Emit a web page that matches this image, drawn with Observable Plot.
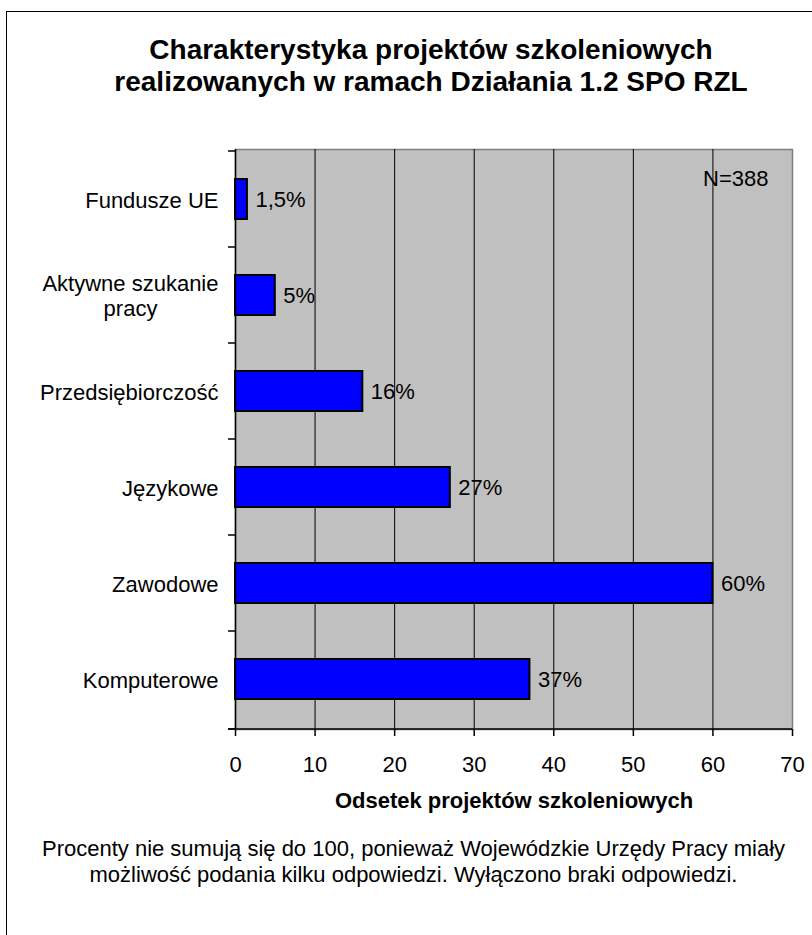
<!DOCTYPE html>
<html>
<head>
<meta charset="utf-8">
<script src="https://cdn.jsdelivr.net/npm/d3@7"></script>
<script src="https://cdn.jsdelivr.net/npm/@observablehq/plot@0.6"></script>
<style>
  html, body { margin: 0; padding: 0; background: #fff; overflow: hidden; }
  #page { position: relative; width: 812px; height: 935px; font-family: "Liberation Sans", Arial, sans-serif; color: #000; }
  #frame { position: absolute; left: 6px; top: 11px; width: 900px; height: 1000px; border: 1.5px solid #000; box-sizing: border-box; }
  #title { position: absolute; left: 0; top: 34px; width: 862px; text-align: center; font-weight: bold; font-size: 28px; line-height: 32px; }
  #caption { position: absolute; left: 0; top: 836px; width: 827px; text-align: center; font-size: 22px; line-height: 26px; }
  #chart { position: absolute; left: 0; top: 0; }
</style>
</head>
<body>
<div id="page">
  <div id="frame"></div>
  <div id="chart"></div>
  <div id="title"></div>
  <div id="caption"></div>
</div>
<script>
const titleLines = ["Charakterystyka projektów szkoleniowych", "realizowanych w ramach Działania 1.2 SPO RZL"];
const categories = ["Fundusze UE", "Aktywne szukanie pracy", "Przedsiębiorczość", "Językowe", "Zawodowe", "Komputerowe"];
// second line padded with non-breaking spaces so it sits centred under the first
const categoryTickLabels = ["Fundusze UE", "Aktywne szukanie\npracy\u00a0\u00a0\u00a0\u00a0\u00a0\u00a0\u00a0\u00a0\u00a0\u00a0", "Przedsiębiorczość", "Językowe", "Zawodowe", "Komputerowe"];
const values = [1.5, 5, 16, 27, 60, 37];
const valueLabels = ["1,5%", "5%", "16%", "27%", "60%", "37%"];
const xTicks = [0, 10, 20, 30, 40, 50, 60, 70];
const xLabel = "Odsetek projektów szkoleniowych";
const sampleNote = "N=388";
const captionLines = ["Procenty nie sumują się do 100, ponieważ Wojewódzkie Urzędy Pracy miały", "możliwość podania kilku odpowiedzi. Wyłączono braki odpowiedzi."];

document.getElementById("title").innerHTML = titleLines.join("<br>");
document.getElementById("caption").innerHTML = captionLines.join("<br>");

const data = categories.map((c, i) => ({category: c, value: values[i], label: valueLabels[i]}));
const tickLabelOf = new Map(categories.map((c, i) => [c, categoryTickLabels[i]]));

// Category boundary ticks on the y axis, plus the bottom axis line
function boundaryTicks(index, scales, values, dims) {
  const y = scales.y;
  const g = d3.create("svg:g").attr("stroke", "black").attr("stroke-width", 1.5);
  const ys = categories.map(c => y(c)).concat([dims.height - dims.marginBottom]);
  for (const yy of ys) {
    g.append("line").attr("x1", dims.marginLeft - 7).attr("x2", dims.marginLeft)
      .attr("y1", yy).attr("y2", yy);
  }
  const yb = dims.height - dims.marginBottom;
  g.append("line").attr("x1", dims.marginLeft - 7).attr("x2", dims.width - dims.marginRight)
    .attr("y1", yb).attr("y2", yb);
  return g.node();
}

const chart = Plot.plot({
  width: 812,
  height: 935,
  marginTop: 149,
  marginLeft: 235,
  marginRight: 20,
  marginBottom: 206,
  style: {fontFamily: "'Liberation Sans', Arial, sans-serif", fontSize: "22px", color: "black", background: "transparent", overflow: "visible"},
  x: {domain: [0, 70]},
  y: {domain: categories, padding: 0},
  marks: [
    Plot.frame({fill: "#c0c0c0", stroke: "#808080", strokeWidth: 1.5}),
    Plot.gridX(xTicks.filter(t => t > 0 && t < 70), {stroke: "black", strokeOpacity: 1, strokeWidth: 1}),
    Plot.barX(data, {x: "value", y: "category", fill: "#0000ff", stroke: "black", strokeWidth: 2, insetTop: 28, insetBottom: 28}),
    Plot.text(data, {x: "value", y: "category", text: "label", textAnchor: "start", dx: 8, fontSize: 22, fill: "black"}),
    Plot.text([sampleNote], {frameAnchor: "top-right", dx: -24, dy: 21, fontSize: 22, fill: "black", textAnchor: "end"}),
    Plot.ruleX([0], {stroke: "black", strokeWidth: 1.5}),
    Plot.axisX({ticks: xTicks, tickSize: 7, tickPadding: 20, fontSize: 22, label: null, stroke: "black", strokeWidth: 1.5}),
    Plot.axisY({tickSize: 0, tickPadding: 17, tickFormat: d => tickLabelOf.get(d), fontSize: 22, label: null, lineHeight: 1.15}),
    Plot.text([xLabel], {frameAnchor: "bottom", dy: 78, fontSize: 22, fontWeight: "bold", fill: "black"}),
    boundaryTicks
  ]
});
document.getElementById("chart").appendChild(chart);
</script>
</body>
</html>
